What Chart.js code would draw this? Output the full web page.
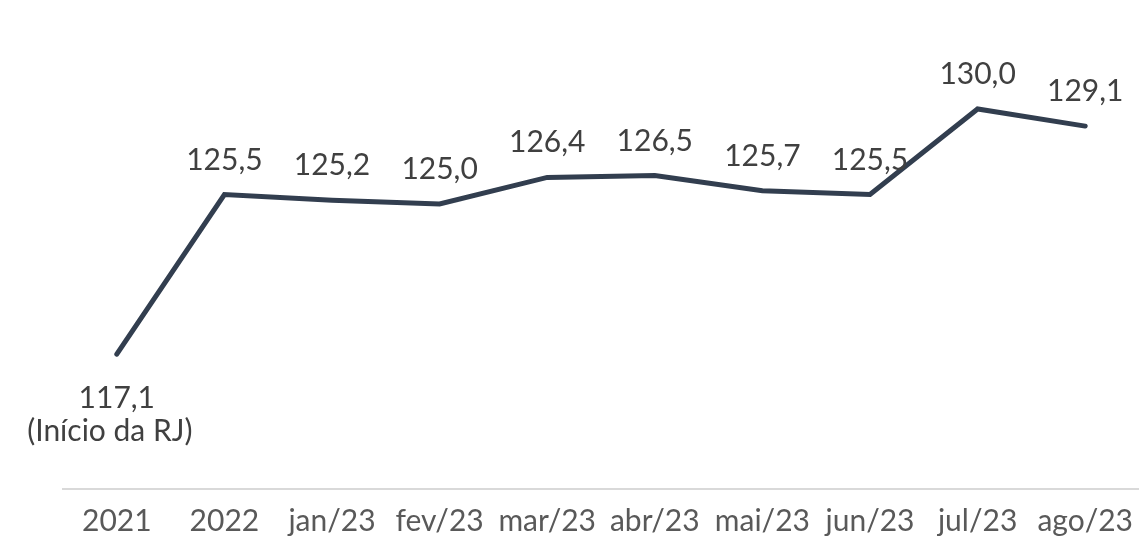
<!DOCTYPE html>
<html>
<head>
<meta charset="utf-8">
<script src="https://cdn.jsdelivr.net/npm/chart.js@4/dist/chart.umd.min.js"></script>
<style>
  body { margin: 0; background: #fff; }
  #wrap { width: 1139px; height: 540px; }
</style>
</head>
<body>
<div id="wrap"><canvas id="myChart"></canvas></div>
<script>
const labels = ['2021', '2022', 'jan/23', 'fev/23', 'mar/23', 'abr/23', 'mai/23', 'jun/23', 'jul/23', 'ago/23'];
const values = [117.1, 125.5, 125.2, 125.0, 126.4, 126.5, 125.7, 125.5, 130.0, 129.1];
const notes = ['(Início da RJ)', '', '', '', '', '', '', '', '', ''];

const FONT = 'Lato';
const fmt = v => v.toFixed(1).replace('.', ',');

// draws the value labels above each point (below, with the note, when there is one)
const valueLabels = {
  id: 'valueLabels',
  afterDatasetsDraw(chart) {
    const ctx = chart.ctx;
    const meta = chart.getDatasetMeta(0);
    ctx.save();
    ctx.font = '30px ' + FONT;
    ctx.fillStyle = '#404040';
    ctx.textAlign = 'center';
    ctx.textBaseline = 'alphabetic';
    meta.data.forEach((pt, i) => {
      const txt = fmt(values[i]);
      if (notes[i]) {
        ctx.fillText(txt, pt.x, pt.y + 54);
        ctx.fillText(notes[i], pt.x - 7, pt.y + 87);
      } else {
        ctx.fillText(txt, pt.x, pt.y - 25);
      }
    });
    ctx.restore();
  }
};

const data = {
  labels: labels,
  datasets: [{
    data: values,
    borderColor: '#323E4F',
    borderWidth: 5,
    borderCapStyle: 'round',
    borderJoinStyle: 'miter',
    pointRadius: 0,
    tension: 0,
    fill: false
  }]
};

const config = {
  type: 'line',
  data: data,
  options: {
    responsive: true,
    maintainAspectRatio: false,
    animation: false,
    layout: { padding: { left: 63, right: 0, top: 14, bottom: -3 } },
    plugins: {
      legend: { display: false },
      tooltip: { enabled: false }
    },
    scales: {
      x: {
        offset: true,
        grid: { display: false, drawTicks: true, tickLength: 10 },
        border: { display: true, color: '#D9D9D9', width: 2 },
        ticks: {
          autoSkip: false,
          maxRotation: 0,
          padding: 4,
          color: '#595959',
          font: { family: FONT, size: 30 }
        }
      },
      y: {
        display: false,
        min: 110,
        max: 135
      }
    }
  },
  plugins: [valueLabels]
};

const myChart = new Chart(document.getElementById('myChart'), config);
</script>
</body>
</html>
